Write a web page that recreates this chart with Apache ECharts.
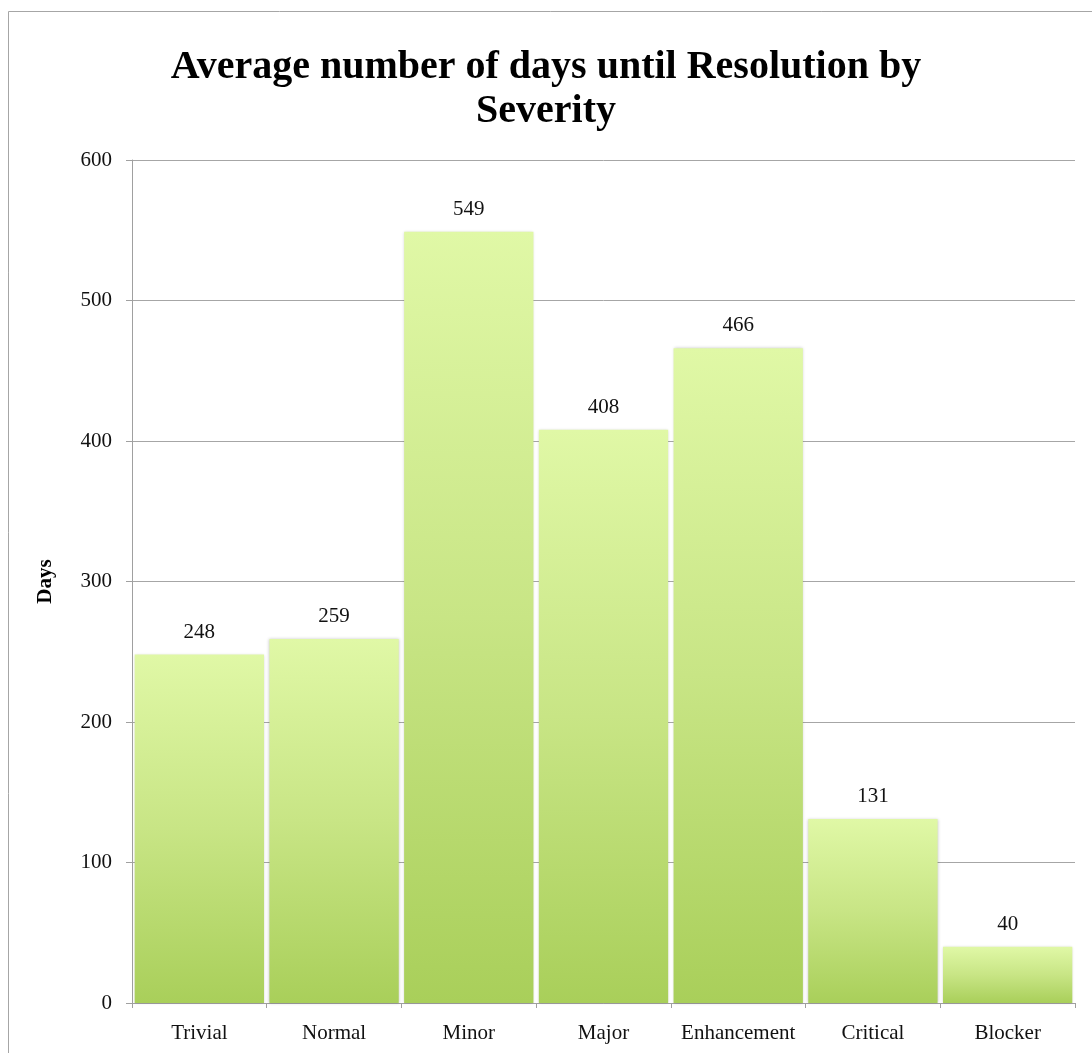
<!DOCTYPE html>
<html>
<head>
<meta charset="utf-8">
<script src="https://cdn.jsdelivr.net/npm/echarts@6/dist/echarts.min.js"></script>
<style>
  html, body { margin: 0; padding: 0; background: #fff; }
  #chart { width: 1092px; height: 1053px; }
</style>
</head>
<body>
<div id="chart"></div>
<script>
// Severity categories and average days until resolution
const categories = ['Trivial', 'Normal', 'Minor', 'Major', 'Enhancement', 'Critical', 'Blocker'];
const avgDays = [248, 259, 549, 408, 466, 131, 40];
const yMin = 0;
const yMax = 600;
const yStep = 100;

const serif = '"Liberation Serif", "Times New Roman", serif';

const chart = echarts.init(document.getElementById('chart'));

chart.setOption({
  backgroundColor: '#ffffff',
  animation: false,
  title: {
    text: 'Average number of days until Resolution by\nSeverity',
    left: 'center',
    top: 41,
    textStyle: {
      fontFamily: serif,
      fontWeight: 'bold',
      fontSize: 40,
      lineHeight: 44,
      color: '#000'
    }
  },
  graphic: [{
    type: 'rect',
    silent: true,
    shape: { x: 8.5, y: 11.5, width: 1200, height: 1200 },
    style: { fill: 'none', stroke: '#a6a6a6', lineWidth: 1 }
  }],
  grid: { left: 132, right: 17, top: 160, bottom: 50, containLabel: false },
  xAxis: {
    type: 'category',
    data: categories,
    axisLine: { show: true, lineStyle: { color: '#a0a0a0', width: 1 } },
    axisTick: { show: true, length: 5, lineStyle: { color: '#a0a0a0' } },
    axisLabel: { interval: 0, margin: 20, fontFamily: serif, fontSize: 21, color: '#111' },
    splitLine: { show: false }
  },
  yAxis: {
    type: 'value',
    min: yMin,
    max: yMax,
    interval: yStep,
    name: 'Days',
    nameLocation: 'middle',
    nameGap: 76,
    nameRotate: 90,
    nameTextStyle: { fontFamily: serif, fontWeight: 'bold', fontSize: 21, color: '#000' },
    axisLine: { show: true, lineStyle: { color: '#a0a0a0', width: 1 } },
    axisTick: { show: true, length: 6, lineStyle: { color: '#a0a0a0' } },
    axisLabel: { margin: 20, fontFamily: serif, fontSize: 21, color: '#111' },
    splitLine: { show: true, lineStyle: { color: '#a6a6a6', width: 1 } }
  },
  series: [{
    type: 'bar',
    data: avgDays,
    barCategoryGap: '4%',
    itemStyle: {
      color: new echarts.graphic.LinearGradient(0, 0, 0, 1, [
        { offset: 0, color: '#e0f8a6' },
        { offset: 0.5, color: '#c8e585' },
        { offset: 1, color: '#a9cf5a' }
      ]),
      shadowBlur: 3,
      shadowColor: 'rgba(0,0,0,0.22)'
    },
    label: {
      show: true,
      position: 'top',
      distance: 12,
      fontFamily: serif,
      fontSize: 21,
      color: '#111'
    }
  }]
});
</script>
</body>
</html>
